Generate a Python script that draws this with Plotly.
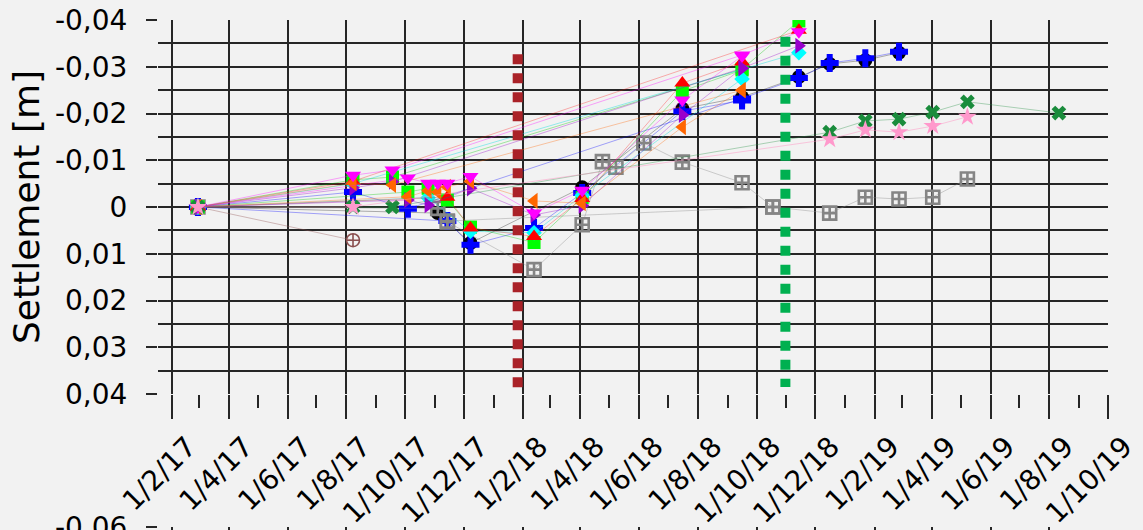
import plotly.graph_objects as go

# ---- axis labels -------------------------------------------------------
x_tick_dates = ["2017-02-01", "2017-04-01", "2017-06-01", "2017-08-01", "2017-10-01",
                "2017-12-01", "2018-02-01", "2018-04-01", "2018-06-01", "2018-08-01",
                "2018-10-01", "2018-12-01", "2019-02-01", "2019-04-01", "2019-06-01",
                "2019-08-01", "2019-10-01"]
x_tick_labels = ["1/2/17", "1/4/17", "1/6/17", "1/8/17", "1/10/17", "1/12/17",
                 "1/2/18", "1/4/18", "1/6/18", "1/8/18", "1/10/18", "1/12/18",
                 "1/2/19", "1/4/19", "1/6/19", "1/8/19", "1/10/19"]
y_tick_vals = [-0.04, -0.03, -0.02, -0.01, 0.0, 0.01, 0.02, 0.03, 0.04]
y_tick_labels = ["-0,04", "-0,03", "-0,02", "-0,01", "0", "0,01", "0,02", "0,03", "0,04"]
x_range = ["2017-01-17 12:00", "2019-10-01"]

# ---- survey points: settlement [m] per measurement date -----------------
magenta_a_dates = ["2017-02-28", "2017-08-08", "2017-09-18", "2018-09-16", "2018-11-14"]
magenta_a_vals = [0.0, -0.0068, -0.0079, -0.0325, -0.0375]
lime_a_dates = ["2017-02-28", "2017-08-08", "2017-09-18", "2018-09-16", "2018-11-14"]
lime_a_vals = [0.0, -0.0058, -0.0064, -0.0295, -0.0398]
orange_a_dates = ["2017-02-28", "2017-08-08", "2017-09-18", "2018-09-16"]
orange_a_vals = [0.0, -0.0051, -0.0047, -0.0250]
purple_a_dates = ["2017-02-28", "2017-08-08", "2017-09-18", "2018-09-16", "2018-11-14"]
purple_a_vals = [0.0, -0.0041, -0.0054, -0.0297, -0.0345]
red_a_dates = ["2017-02-28", "2017-08-08", "2018-11-14"]
red_a_vals = [0.0, -0.0055, -0.0378]
cyan_a_dates = ["2017-02-28", "2017-08-08", "2018-11-14"]
cyan_a_vals = [0.0, -0.0050, -0.0330]
blue_a_dates = ["2017-02-28", "2017-08-08", "2017-10-04", "2018-09-16", "2018-11-14",
                "2018-12-16", "2019-01-22", "2019-02-26"]
blue_a_vals = [0.0, -0.0032, 0.0004, -0.0232, -0.0276, -0.0308, -0.0318, -0.0332]
black_dates = ["2017-02-28", "2017-11-04", "2017-12-08", "2018-04-03", "2018-07-16",
               "2018-09-16", "2018-11-14", "2018-12-16", "2019-01-22", "2019-02-26"]
black_vals = [0.0, 0.0013, 0.0077, -0.0042, -0.0210, -0.0235, -0.0278, -0.0306, -0.0314, -0.0330]

magenta_b_dates = ["2017-02-28", "2017-10-04", "2017-10-25", "2017-11-04", "2017-11-14",
                   "2017-12-08", "2018-02-12", "2018-04-03", "2018-07-16", "2018-09-16"]
magenta_b_vals = [0.0, -0.0062, -0.0051, -0.0051, -0.0051, -0.0065, 0.0013, -0.0036, -0.0229, -0.0323]
lime_b_dates = ["2017-02-28", "2017-10-04", "2017-10-25", "2017-11-14", "2017-12-08",
                "2018-02-12", "2018-04-03", "2018-07-16", "2018-09-16"]
lime_b_vals = [0.0, -0.0032, -0.0040, -0.0015, 0.0043, 0.0076, -0.0020, -0.0248, -0.0293]
orange_b_dates = ["2017-02-28", "2017-10-04", "2017-10-25", "2017-11-04", "2017-11-14",
                  "2017-12-08", "2018-02-12", "2018-04-03", "2018-07-16", "2018-09-16"]
orange_b_vals = [0.0, -0.0022, -0.0035, -0.0032, -0.0043, -0.0055, -0.0013, -0.0008, -0.0171, -0.0250]
purple_b_dates = ["2017-02-28", "2017-10-04", "2017-10-25", "2017-12-08", "2018-02-12",
                  "2018-04-03", "2018-07-16", "2018-09-16"]
purple_b_vals = [0.0, -0.0015, -0.0004, -0.0040, 0.0017, -0.0003, -0.0197, -0.0297]
red_b_dates = ["2017-02-28", "2017-11-14", "2017-12-08", "2018-02-12", "2018-04-03",
               "2018-07-16", "2018-09-16"]
red_b_vals = [0.0, -0.0021, 0.0045, 0.0063, -0.0018, -0.0265, -0.0310]
cyan_b_dates = ["2017-02-28", "2017-10-25", "2017-12-08", "2018-02-12", "2018-04-03",
                "2018-09-16"]
cyan_b_vals = [0.0, -0.0020, 0.0052, 0.0055, -0.0025, -0.0274]
blue_b_dates = ["2017-02-28", "2017-11-14", "2017-12-08", "2018-02-12", "2018-04-03",
                "2018-07-16", "2018-09-16"]
blue_b_vals = [0.0, 0.0030, 0.0081, 0.0045, -0.0030, -0.0205, -0.0228]

green_x_dates = ["2017-02-28", "2017-08-08", "2017-09-18", "2018-12-16", "2019-01-22",
                 "2019-02-26", "2019-04-02", "2019-05-08", "2019-08-11"]
green_x_vals = [0.0, 0.0, 0.0, -0.0160, -0.0184, -0.0188, -0.0203, -0.0225, -0.0201]
pink_star_dates = ["2017-02-28", "2017-08-08", "2018-12-16", "2019-01-22", "2019-02-26",
                   "2019-04-02", "2019-05-08"]
pink_star_vals = [0.0, 0.0, -0.0145, -0.0165, -0.0160, -0.0173, -0.0193]
gray_dates = ["2017-02-28", "2017-11-04", "2017-11-14", "2018-02-12", "2018-04-03",
              "2018-04-24", "2018-05-08", "2018-06-06", "2018-07-16", "2018-09-16",
              "2018-10-18", "2018-12-16", "2019-01-22", "2019-02-26", "2019-04-02",
              "2019-05-08"]
gray_vals = [0.0, 0.0003, 0.0032, 0.0134, 0.0038, -0.0097, -0.0085, -0.0137, -0.0096,
             -0.0052, 0.0, 0.0013, -0.0021, -0.0017, -0.0021, -0.0060]
gray2_dates = ["2017-11-14", "2018-10-18"]
gray2_vals = [0.0030, 0.0]
brown_dates = ["2017-02-28", "2017-08-08"]
brown_vals = [0.0, 0.0071]

# construction milestones (vertical markers)
red_line_dates = ["2018-01-26", "2018-01-26"]
red_line_vals = [-0.0327, 0.0424]
green_line_dates = ["2018-10-31", "2018-10-31"]
green_line_vals = [-0.0364, 0.0385]

GRID = "#262626"
BG = "#f2f2f2"
FONT = "DejaVu Sans"
TICK_SIZE = 28

fig = go.Figure()


def add_series(dates, vals, symbol, color, line_rgba, size=12, open_width=0):
    marker = dict(symbol=symbol, size=size, color=color)
    if open_width:
        marker["line"] = dict(color=color, width=open_width)
    else:
        marker["line"] = dict(width=0)
    fig.add_trace(go.Scatter(x=dates, y=vals, mode="lines+markers",
                             line=dict(color=line_rgba, width=1),
                             marker=marker, showlegend=False, hoverinfo="skip"))


add_series(brown_dates, brown_vals, "circle-cross-open", "#8a4f4f", "rgba(150,90,90,0.4)", 13, 1.6)
add_series(black_dates, black_vals, "circle", "#000000", "rgba(0,0,0,0.3)", 14)
add_series(blue_a_dates, blue_a_vals, "cross", "#0000ff", "rgba(0,0,255,0.35)", 15)
add_series(blue_b_dates, blue_b_vals, "cross", "#0000ff", "rgba(0,0,255,0.35)", 15)
add_series(gray_dates, gray_vals, "square-cross-open", "#858585", "rgba(140,140,140,0.4)", 13, 2.6)
add_series(gray2_dates, gray2_vals, "square-cross-open", "#858585", "rgba(140,140,140,0.4)", 13, 2.6)
add_series(lime_a_dates, lime_a_vals, "square", "#00ff00", "rgba(0,200,0,0.35)", 13)
add_series(lime_b_dates, lime_b_vals, "square", "#00ff00", "rgba(0,200,0,0.35)", 13)
add_series(cyan_a_dates, cyan_a_vals, "diamond", "#00ffff", "rgba(0,220,220,0.4)", 12)
add_series(cyan_b_dates, cyan_b_vals, "diamond", "#00ffff", "rgba(0,220,220,0.4)", 12)
add_series(red_a_dates, red_a_vals, "triangle-up", "#ff0000", "rgba(255,0,0,0.3)", 14)
add_series(red_b_dates, red_b_vals, "triangle-up", "#ff0000", "rgba(255,0,0,0.3)", 14)
add_series(purple_a_dates, purple_a_vals, "triangle-right", "#9900cc", "rgba(150,0,200,0.35)", 14)
add_series(purple_b_dates, purple_b_vals, "triangle-right", "#9900cc", "rgba(150,0,200,0.35)", 14)
add_series(orange_a_dates, orange_a_vals, "triangle-left", "#ff6600", "rgba(255,100,0,0.35)", 14)
add_series(orange_b_dates, orange_b_vals, "triangle-left", "#ff6600", "rgba(255,100,0,0.35)", 14)
add_series(magenta_a_dates, magenta_a_vals, "triangle-down", "#ff00ff", "rgba(255,0,255,0.35)", 14)
add_series(magenta_b_dates, magenta_b_vals, "triangle-down", "#ff00ff", "rgba(255,0,255,0.35)", 14)
add_series(green_x_dates, green_x_vals, "x", "#1a8c3c", "rgba(30,140,60,0.35)", 13)
add_series(pink_star_dates, pink_star_vals, "star", "#ff99cc", "rgba(255,140,190,0.45)", 14)

fig.add_trace(go.Scatter(x=red_line_dates, y=red_line_vals, mode="lines",
                         line=dict(color="#aa2228", width=10, dash="10px,9px"),
                         showlegend=False, hoverinfo="skip"))
fig.add_trace(go.Scatter(x=green_line_dates, y=green_line_vals, mode="lines",
                         line=dict(color="#00b050", width=10, dash="10px,9px"),
                         showlegend=False, hoverinfo="skip"))

# lower panel (only its top edge is in view)
fig.add_trace(go.Scatter(x=[], y=[], xaxis="x2", yaxis="y2", showlegend=False))

H = 530.0
fig.update_layout(
    width=1143, height=530, autosize=False,
    margin=dict(l=158, r=35, t=0, b=0, pad=0),
    paper_bgcolor=BG, plot_bgcolor=BG,
    font=dict(family=FONT, size=TICK_SIZE, color="#000000"),
    xaxis=dict(
        type="date", range=x_range, domain=[0, 1], anchor="y",
        tickmode="array", tickvals=x_tick_dates, ticktext=x_tick_labels,
        tickangle=-45, ticks="outside", ticklen=24, tickwidth=1.5, tickcolor=GRID,
        showgrid=True, gridcolor=GRID, gridwidth=1.5, zeroline=False, showline=False,
        minor=dict(tick0="2017-02-01", dtick="M1", ticks="outside", ticklen=13,
                   tickwidth=1.5, tickcolor=GRID, showgrid=False),
        ticklabelstandoff=0, ticklabelshift=16, ticklabeloverflow="allow",
        automargin=False, tickfont=dict(family=FONT, size=TICK_SIZE),
    ),
    yaxis=dict(
        range=[0.04, -0.04], domain=[1 - 394 / H, 1 - 20 / H], anchor="x",
        tickmode="array", tickvals=y_tick_vals, ticktext=y_tick_labels,
        ticks="outside", ticklen=11, tickwidth=1.5, tickcolor=GRID,
        showgrid=True, gridcolor=GRID, gridwidth=1.5, zeroline=False, showline=False,
        minor=dict(tickmode="linear", tick0=0, dtick=0.005, ticks="",
                   showgrid=True, gridcolor=GRID, gridwidth=1.5),
        ticklabelstandoff=13, ticklabeloverflow="allow",
        title=dict(text="Settlement [m]", font=dict(family=FONT, size=36), standoff=4),
        automargin=False, tickfont=dict(family=FONT, size=TICK_SIZE),
    ),
    xaxis2=dict(
        type="date", range=x_range, domain=[0, 1], anchor="y2",
        tickmode="array", tickvals=x_tick_dates, showticklabels=False, ticks="",
        showgrid=True, gridcolor=GRID, gridwidth=1.5, zeroline=False, showline=False,
        automargin=False,
    ),
    yaxis2=dict(
        range=[-0.0595, -0.06], domain=[0, 1 - 527 / H], anchor="x2",
        tickmode="array", tickvals=[-0.06], ticktext=["-0,06"],
        ticks="outside", ticklen=11, tickwidth=1.5, tickcolor=GRID,
        showgrid=True, gridcolor=GRID, gridwidth=1.5, zeroline=False, showline=False,
        ticklabelstandoff=13, ticklabeloverflow="allow",
        automargin=False, tickfont=dict(family=FONT, size=TICK_SIZE),
    ),
)

fig.write_html("out.html")
